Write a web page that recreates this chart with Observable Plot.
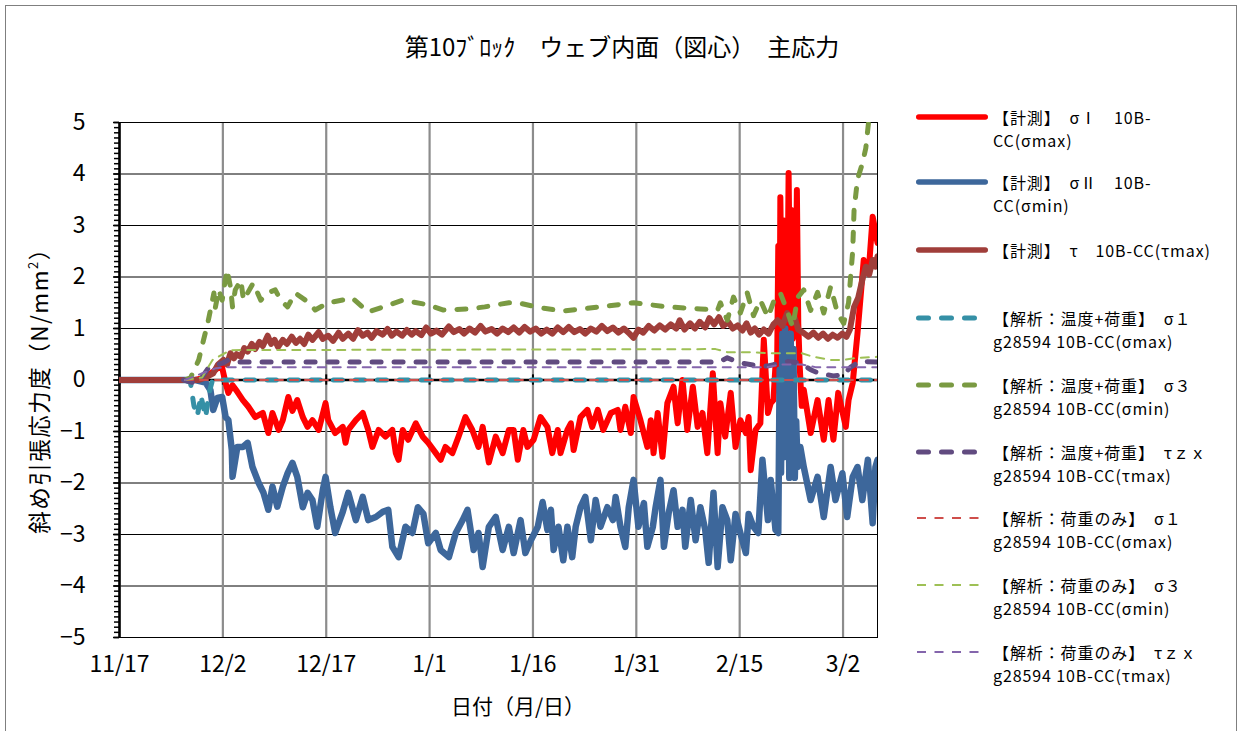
<!DOCTYPE html>
<html><head><meta charset="utf-8">
<script src="https://cdn.jsdelivr.net/npm/d3@7"></script>
<script src="https://cdn.jsdelivr.net/npm/@observablehq/plot@0.6"></script>
<style>
html,body{margin:0;padding:0;background:#fff;}
#wrap{position:relative;width:1241px;height:731px;overflow:hidden;background:#fff;font-family:'Noto Sans CJK JP','Noto Sans',sans-serif;color:#000;}
#border{position:absolute;left:5px;top:5px;width:1230px;height:740px;border:1px solid #7f7f7f;}
#chart{position:absolute;left:0;top:0;}
.abs{position:absolute;white-space:nowrap;}
#title{left:622px;top:31px;transform:translateX(-50%);font-size:24px;line-height:30px;}
#ylab{left:38px;top:385px;transform:translate(-50%,-50%) rotate(-90deg);font-size:22.5px;letter-spacing:1.5px;}
#ylab sup{font-size:13px;vertical-align:10px;line-height:0;}
#xlab{left:518px;top:705px;transform:translate(-50%,-50%);font-size:21px;}
.leg{position:absolute;left:993px;font-size:16px;letter-spacing:0.9px;line-height:23px;white-space:nowrap;}
.sample{position:absolute;left:912px;}
</style></head>
<body>
<div id="wrap">
  <div id="border"></div>
  <div id="chart"></div>
  <div id="title" class="abs"></div>
  <div id="ylab" class="abs">斜め引張応力度（N/mm<sup>2</sup>）</div>
  <div id="xlab" class="abs">日付（月/日）</div>
  <div id="legend"></div>
</div>
<script>
// ---------- data ----------
const titleText = "第10ﾌﾞﾛｯｸ　ウェブ内面（図心）　主応力";
const xTickDays = [0, 15, 30, 45, 60, 75, 90, 105];
const xTickLabels = ["11/17", "12/2", "12/17", "1/1", "1/16", "1/31", "2/15", "3/2"];
const yTicks = [-5, -4, -3, -2, -1, 0, 1, 2, 3, 4, 5];

// [days since 11/17, N/mm2]
const measSigma1 = [[0,0],[11,0],[12.5,0.05],[13.5,0.15],[14.4,0.25],[14.8,0.3],[15.4,-0.06],[15.8,-0.25],[16.4,-0.1],[17.1,-0.23],[17.9,-0.39],[18.7,-0.52],[19.7,-0.72],[20.8,-0.64],[21.6,-1.03],[22.2,-0.64],[23.1,-0.97],[23.7,-0.78],[24.5,-0.33],[25.1,-0.6],[25.8,-0.39],[26.6,-0.72],[27.3,-0.91],[28.0,-0.78],[28.9,-0.97],[29.9,-0.45],[30.3,-0.78],[31.3,-1.03],[32.4,-0.91],[32.8,-1.22],[33.2,-0.97],[34.3,-0.78],[35.3,-0.64],[36.1,-0.97],[36.7,-1.3],[37.6,-0.97],[38.6,-1.1],[39.6,-0.97],[40.1,-1.42],[40.5,-1.55],[41.1,-0.97],[41.9,-1.16],[43.0,-0.84],[44.0,-1.1],[44.8,-1.22],[45.9,-1.42],[46.6,-1.55],[47.3,-1.3],[48.3,-1.42],[49.2,-1.1],[50.2,-0.72],[51.2,-0.97],[52.1,-1.3],[52.7,-0.91],[53.6,-1.6],[54.6,-1.1],[55.6,-1.42],[56.5,-0.97],[57.2,-0.97],[57.8,-1.55],[58.6,-0.97],[59.2,-1.3],[60.1,-1.16],[61.1,-0.72],[62.1,-0.91],[62.8,-1.42],[63.6,-0.97],[64.0,-1.42],[65.0,-0.97],[65.5,-0.84],[65.9,-1.36],[66.9,-0.72],[67.9,-0.58],[68.6,-0.91],[69.4,-0.58],[70.2,-0.97],[71.3,-0.64],[72.3,-0.58],[72.7,-0.97],[73.4,-0.52],[74.2,-1.03],[74.6,-0.33],[75.6,-0.78],[76.6,-1.3],[77.1,-0.78],[77.5,-1.42],[78.1,-0.64],[78.8,-1.49],[79.5,-0.45],[80.4,-0.13],[81.0,-0.84],[81.7,0.0],[82.4,-0.97],[83.2,-0.13],[83.9,-0.91],[84.6,-0.64],[85.3,-1.42],[86.1,0.13],[86.8,-1.42],[87.2,-0.45],[87.9,-1.1],[88.7,-0.25],[89.4,-1.3],[90.1,-0.78],[90.9,-1.03],[91.3,-0.72],[91.6,-1.75],[92.3,-0.97],[93.0,-0.84],[93.5,0.78],[94.1,-0.64],[94.5,-0.45],[94.9,-0.39],[95.2,0.3],[95.4,-0.2],[95.6,2.6],[95.8,0.9],[95.9,3.55],[96.1,1.4],[96.3,3.1],[96.5,0.6],[96.7,2.7],[96.9,1.0],[97.1,4.02],[97.3,1.6],[97.5,3.3],[97.7,0.8],[97.9,2.2],[98.1,0.9],[98.3,3.69],[98.5,1.1],[98.7,0.3],[99.0,-0.5],[99.3,-0.19],[100.3,-1.03],[101.3,-0.39],[102.2,-1.16],[102.9,-0.39],[103.6,-1.16],[104.3,-0.25],[105.4,-0.91],[105.8,-0.39],[106.4,-0.06],[107.1,0.91],[108.0,2.33],[108.7,2.07],[109.3,3.17],[110.0,2.66]];
const measSigma2 = [[0,0],[11,0],[12.5,-0.05],[13.2,-0.2],[13.6,-0.58],[14.2,-0.35],[14.9,-0.33],[15.4,-0.72],[15.8,-0.78],[16.3,-1.36],[16.4,-1.88],[17.1,-1.3],[17.9,-1.3],[18.6,-1.22],[19.3,-1.69],[20.2,-2.0],[20.9,-2.19],[21.6,-2.52],[22.2,-2.07],[22.9,-2.46],[23.7,-2.07],[24.4,-1.81],[25.1,-1.61],[25.8,-1.88],[26.6,-2.47],[27.3,-2.19],[28.0,-2.33],[28.7,-2.85],[29.5,-2.14],[29.9,-1.88],[30.6,-2.47],[31.3,-2.97],[32.4,-2.56],[33.2,-2.19],[34.3,-2.72],[35.3,-2.27],[36.1,-2.72],[37.2,-2.66],[38.2,-2.56],[39.0,-2.52],[39.6,-3.24],[40.5,-3.44],[41.5,-2.85],[42.5,-2.97],[43.3,-2.47],[44.1,-2.6],[44.8,-3.17],[45.9,-2.97],[46.6,-3.3],[47.8,-3.44],[48.8,-2.97],[49.8,-2.72],[50.5,-2.52],[51.4,-3.3],[52.1,-2.97],[52.7,-3.63],[53.6,-2.85],[54.6,-2.66],[55.6,-3.3],[56.5,-2.85],[57.2,-3.36],[58.2,-2.72],[58.9,-3.36],[59.7,-3.11],[60.7,-2.85],[61.4,-2.37],[62.1,-2.91],[62.6,-2.52],[63.0,-3.3],[63.7,-2.85],[64.4,-3.5],[65.0,-2.85],[65.7,-3.44],[66.2,-2.85],[66.9,-2.47],[67.6,-2.27],[68.4,-3.11],[69.1,-2.33],[69.8,-2.85],[70.8,-2.47],[71.6,-2.72],[72.0,-2.27],[72.7,-2.85],[73.4,-3.24],[73.9,-2.47],[74.6,-1.94],[75.3,-2.85],[76.1,-2.39],[76.6,-3.24],[77.4,-2.85],[77.8,-2.47],[78.5,-1.94],[79.0,-3.24],[79.7,-2.58],[80.4,-2.14],[81.0,-2.85],[81.7,-2.52],[82.1,-3.24],[82.9,-2.33],[83.6,-3.11],[84.3,-2.47],[85.0,-2.91],[85.5,-3.55],[86.2,-2.19],[86.8,-3.63],[87.5,-2.47],[88.2,-2.72],[88.7,-3.5],[89.4,-2.6],[90.1,-2.97],[90.9,-3.36],[91.3,-2.6],[92.0,-2.85],[92.7,-2.97],[93.3,-1.55],[94.1,-2.72],[94.5,-1.94],[95.2,-2.91],[95.6,-2.97],[95.8,0.2],[96.0,-1.8],[96.2,0.9],[96.4,-1.5],[96.6,1.0],[96.8,-1.2],[97.0,0.8],[97.2,-1.9],[97.4,0.9],[97.6,-1.5],[97.8,0.6],[98.0,-1.9],[98.2,-0.8],[98.4,-1.69],[98.8,-1.3],[99.3,-1.69],[100.3,-2.33],[101.3,-1.88],[102.2,-2.66],[103.2,-1.69],[103.9,-2.33],[104.9,-1.81],[105.6,-2.66],[106.4,-1.88],[107.1,-1.69],[107.8,-2.33],[108.6,-1.55],[109.3,-2.78],[109.7,-1.69],[110.0,-1.55]];
const measTau = [[0,0],[11.5,0],[12.5,0.05],[13.6,0.13],[14.3,0.3],[15.1,0.39],[15.6,0.3],[16.1,0.52],[16.6,0.42],[17.0,0.5],[17.6,0.45],[18.1,0.62],[18.6,0.55],[19.2,0.7],[19.7,0.6],[20.3,0.74],[20.8,0.66],[21.5,0.86],[22.0,0.7],[22.5,0.78],[23.0,0.64],[23.7,0.78],[24.3,0.7],[25.0,0.84],[25.6,0.72],[26.2,0.8],[26.8,0.7],[27.4,0.88],[28.0,0.78],[28.9,0.93],[29.5,0.8],[30.3,0.86],[31.0,0.76],[31.8,0.92],[32.4,0.8],[33.2,0.9],[33.9,0.8],[34.6,0.97],[35.3,0.86],[36.0,0.92],[36.6,0.82],[37.3,0.95],[38.2,0.88],[38.9,0.99],[39.5,0.86],[40.2,0.94],[41.0,0.86],[41.7,0.97],[42.4,0.88],[43.0,0.95],[43.8,0.87],[44.5,1.02],[45.2,0.9],[46.0,0.96],[46.8,0.88],[47.8,1.04],[48.5,0.93],[49.3,0.99],[50.0,0.9],[50.8,1.0],[51.6,0.92],[52.4,1.05],[53.1,0.94],[54.0,0.99],[54.8,0.9],[55.6,1.0],[56.4,0.93],[57.2,1.02],[58.0,0.92],[58.8,1.03],[59.6,0.94],[60.4,1.0],[61.2,0.9],[62.0,0.98],[62.8,0.9],[63.6,1.02],[64.4,0.93],[65.2,1.03],[66.0,0.93],[66.8,0.99],[67.6,0.9],[68.4,1.0],[69.2,0.94],[70.0,1.05],[70.8,0.95],[71.6,1.02],[72.4,0.92],[73.2,1.0],[74.0,0.9],[74.6,0.82],[75.3,0.98],[76.0,0.92],[76.8,1.05],[77.6,0.96],[78.4,1.06],[79.2,0.98],[80.0,1.08],[80.8,1.0],[81.3,1.16],[82.0,0.98],[82.8,1.1],[83.5,1.0],[84.2,1.13],[85.0,1.02],[85.6,1.2],[86.3,1.08],[87.0,1.22],[87.6,1.05],[88.4,1.12],[89.0,1.0],[89.7,1.06],[90.4,0.96],[91.0,1.1],[91.6,0.92],[92.2,1.0],[92.8,0.88],[93.5,0.98],[94.2,0.9],[94.9,1.08],[95.5,1.16],[96.2,1.05],[96.9,1.3],[97.5,1.1],[98.0,1.2],[98.5,0.98],[99.3,0.91],[100.0,0.84],[100.7,0.92],[101.4,0.82],[102.1,0.9],[102.8,0.8],[103.5,0.88],[104.2,0.82],[104.9,0.9],[105.5,0.84],[106.0,0.98],[106.6,1.42],[107.2,1.6],[107.9,2.0],[108.3,2.2],[108.8,2.05],[109.3,2.33],[109.7,2.2],[110.0,2.4]];
const anaTLSigma1 = [[9.5,0],[10.3,-0.05],[10.8,-0.5],[11.3,-0.7],[11.8,-0.3],[12.5,-0.72],[13.0,-0.25],[13.5,0],[110,0]];
const anaTLSigma3 = [[9.5,0],[10.3,0.04],[11.5,0.39],[12.2,0.78],[12.8,1.1],[13.2,1.36],[13.7,1.69],[13.9,1.4],[14.4,1.75],[14.9,1.55],[15.6,2.14],[16.1,1.81],[16.4,1.42],[16.8,1.75],[17.6,1.94],[18.0,1.55],[19.4,1.88],[20.5,1.55],[21.5,1.69],[22.6,1.75],[23.4,1.55],[24.4,1.42],[25.5,1.69],[27.3,1.52],[28.4,1.36],[30.3,1.5],[33.8,1.59],[36.1,1.32],[41.1,1.55],[44.8,1.46],[46.9,1.36],[50.7,1.38],[53.0,1.42],[56.5,1.5],[57.8,1.5],[61.1,1.4],[64.4,1.34],[69.8,1.42],[74.6,1.5],[79.5,1.42],[84.3,1.38],[86.8,1.36],[87.2,1.5],[88.2,1.16],[89.1,1.61],[90.1,1.3],[91.1,1.69],[92.0,1.25],[93.0,1.55],[94.1,1.22],[95.0,1.55],[95.9,1.69],[97.0,1.3],[97.7,1.03],[98.4,1.6],[99.3,1.75],[100.3,1.35],[101.3,1.7],[102.2,1.3],[103.2,1.81],[104.2,1.3],[105.1,1.1],[105.8,1.5],[106.4,2.5],[106.6,3.3],[107.1,3.9],[107.8,4.2],[108.3,4.5],[108.7,5.0],[110,5.6]];
const anaTLTau = [[9.3,0],[11,-0.06],[12,0.06],[13,0.25],[15,0.33],[15.8,0.39],[17,0.35],[87,0.35],[88.2,0.43],[90.1,0.33],[92,0.29],[94,0.27],[96,0.33],[97,0.36],[98.8,0.33],[100.3,0.2],[101.7,0.12],[103.6,0.08],[105.1,0.1],[106.1,0.25],[107.5,0.36],[110,0.35]];
const anaLSigma1 = [[9.5,0],[110,0]];
const anaLSigma3 = [[9.5,0],[12,0.05],[13.5,0.39],[15,0.5],[16.1,0.58],[86.5,0.6],[88.2,0.54],[92,0.54],[94,0.52],[99,0.52],[100.7,0.45],[103.2,0.39],[105.1,0.39],[107,0.43],[110,0.45]];
const anaLTau = [[9.5,0],[12,0.13],[14,0.23],[16,0.25],[94,0.25],[96,0.3],[99,0.3],[101,0.25],[110,0.25]];

const legendLabels = [
  ["【計測】　σⅠ　10B-", "CC(σmax)"],
  ["【計測】　σⅡ　10B-", "CC(σmin)"],
  ["【計測】　τ　10B-CC(τmax)"],
  ["【解析：温度+荷重】　σ１", "g28594 10B-CC(σmax)"],
  ["【解析：温度+荷重】　σ３", "g28594 10B-CC(σmin)"],
  ["【解析：温度+荷重】　τｚｘ", "g28594 10B-CC(τmax)"],
  ["【解析：荷重のみ】　σ１", "g28594 10B-CC(σmax)"],
  ["【解析：荷重のみ】　σ３", "g28594 10B-CC(σmin)"],
  ["【解析：荷重のみ】　τｚｘ", "g28594 10B-CC(τmax)"]
];
const seriesData = [measSigma1, measSigma2, measTau, anaTLSigma1, anaTLSigma3, anaTLTau, anaLSigma1, anaLSigma3, anaLTau];

// ---------- styles ----------
const seriesStyles = [
  {stroke: "#FF0000", width: 6, dash: null},
  {stroke: "#3D679B", width: 6.5, dash: null},
  {stroke: "#A03E3A", width: 6, dash: null},
  {stroke: "#3590A6", width: 5, dash: "9,13"},
  {stroke: "#7A9A42", width: 5, dash: "9,13"},
  {stroke: "#614B80", width: 5, dash: "9,13"},
  {stroke: "#CF4E4B", width: 2, dash: "8,7"},
  {stroke: "#9EC055", width: 2, dash: "8,7"},
  {stroke: "#8465AC", width: 2, dash: "8,7"}
];
const legendY = [117, 182, 250, 318, 385, 452, 518, 585, 652];

const base = Date.UTC(2018, 10, 17);
const toDate = d => new Date(base + d * 864e5);
const rows = pairs => pairs.map(([d, v]) => ({date: toDate(d), v}));
const tickDates = xTickDays.map(toDate);
const labelOf = new Map(tickDates.map((d, i) => [+d, xTickLabels[i]]));
const yMinor = d3.range(-50, 51).map(k => k / 10);
const CJK = "'Noto Sans CJK JP','Noto Sans',sans-serif";

document.getElementById("title").textContent = titleText;

const lineMarks = seriesData.map((s, i) => Plot.line(rows(s), {
  x: "date", y: "v",
  stroke: seriesStyles[i].stroke,
  strokeWidth: seriesStyles[i].width,
  strokeDasharray: seriesStyles[i].dash,
  strokeLinecap: "round", strokeLinejoin: "round",
  clip: true
}));

const chart = Plot.plot({
  width: 900, height: 731,
  marginLeft: 119, marginRight: 23, marginTop: 122, marginBottom: 94,
  style: {fontFamily: CJK, fontSize: "23px", color: "#000", background: "transparent"},
  x: {type: "utc", domain: [toDate(0), toDate(110)]},
  y: {domain: [-5, 5]},
  marks: [
    Plot.ruleY(yTicks, {stroke: "#000", strokeWidth: 1}),
    Plot.ruleX(tickDates, {stroke: "#8c8c8c", strokeWidth: 2.2}),
    Plot.frame({stroke: "#000", strokeWidth: 1}),
    Plot.ruleY([0], {stroke: "#000", strokeWidth: 2.5}),
    Plot.ruleX(tickDates, {y1: -0.1, y2: 0.1, stroke: "#000", strokeWidth: 2}),
    Plot.ruleX([toDate(0)], {stroke: "#000", strokeWidth: 2.5}),
    Plot.axisY({ticks: yMinor, tickSize: 5, tickFormat: () => "", strokeWidth: 1.5, label: null}),
    Plot.axisY({ticks: yTicks, tickSize: 6, tickPadding: 28, strokeWidth: 1.5, label: null,
      tickFormat: d => d < 0 ? "\u2212" + (-d) : String(d)}),
    Plot.axisX({ticks: tickDates, tickSize: 0, tickPadding: 18, label: null,
      tickFormat: d => labelOf.get(+d)}),
    ...lineMarks
  ]
});
document.getElementById("chart").appendChild(chart);

// legend
const leg = document.getElementById("legend");
legendLabels.forEach((lines, i) => {
  const st = seriesStyles[i];
  const y = legendY[i];
  const ns = "http://www.w3.org/2000/svg";
  const svg = document.createElementNS(ns, "svg");
  svg.setAttribute("width", 80); svg.setAttribute("height", 12);
  svg.setAttribute("class", "sample");
  svg.style.top = (y - 6) + "px";
  const ln = document.createElementNS(ns, "line");
  const w = Math.min(st.width, 5.5);
  ln.setAttribute("x1", 4 + w / 2); ln.setAttribute("x2", 76 - w / 2);
  ln.setAttribute("y1", 6); ln.setAttribute("y2", 6);
  ln.setAttribute("stroke", st.stroke);
  ln.setAttribute("stroke-width", w);
  ln.setAttribute("stroke-linecap", w > 3 ? "round" : "butt");
  if (st.dash) ln.setAttribute("stroke-dasharray", w > 3 ? "10,13" : "9,8.5");
  svg.appendChild(ln);
  leg.appendChild(svg);
  const div = document.createElement("div");
  div.className = "leg";
  div.style.top = (y - 11.5) + "px";
  div.innerHTML = lines.map(t => t.replace(/&/g, "&amp;").replace(/</g, "&lt;")).join("<br>");
  leg.appendChild(div);
});
</script>
</body></html>
